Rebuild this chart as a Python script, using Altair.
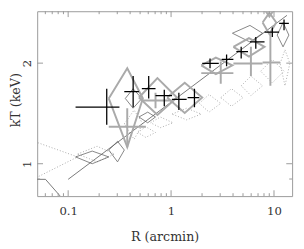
import altair as alt
import pandas as pd

# ---- black crosses (R in arcmin, kT in keV) ----
blk_r     = [0.237, 0.428, 0.606, 0.859, 1.190, 1.687, 2.390, 3.462, 4.800, 6.655, 9.636, 12.52]
blk_r_lo  = [0.118, 0.351, 0.520, 0.706, 1.022, 1.448, 2.008, 3.105, 4.305, 5.839, 8.093, 11.22]
blk_r_hi  = [0.315, 0.487, 0.706, 1.022, 1.417, 1.881, 2.908, 4.031, 5.590, 8.093, 11.22, 13.95]
blk_kt    = [1.476, 1.643, 1.677, 1.600, 1.557, 1.578, 1.996, 2.051, 2.164, 2.314, 2.475, 2.630]
blk_kt_lo = [1.308, 1.476, 1.568, 1.486, 1.447, 1.476, 1.931, 1.957, 2.065, 2.208, 2.393, 2.507]
blk_kt_hi = [1.677, 1.829, 1.829, 1.666, 1.632, 1.677, 2.065, 2.121, 2.238, 2.393, 2.559, 2.701]

# ---- grey crosses ----
gry_r     = [0.375, 0.706, 3.038, 5.968, 9.226]
gry_r_lo  = [0.248, 0.509, 1.965, 4.031, 7.749]
gry_r_hi  = [0.568, 1.044, 4.031, 7.749, 11.47]
gry_kt    = [1.291, 1.547, 1.867, 1.996, 2.010]
gry_kt_lo = [1.121, 1.466, 1.734, 1.829, 1.711]
gry_kt_hi = [1.466, 1.632, 2.024, 2.238, 2.475]

# ---- thick grey diamonds ----
gd_r     = [0.3752, 0.737, 1.357, 2.724, 5.713, 9.026, 9.026]
gd_r_lo  = [0.248, 0.4873, 0.9166, 1.965, 4.031, 7.584, 7.749]
gd_r_hi  = [0.5316, 1.140, 2.008, 3.945, 8.093, 10.75, 10.51]
gd_kt    = [1.568, 1.578, 1.578, 1.970, 2.238, 2.987, 2.647]
gd_kt_lo = [1.121, 1.399, 1.418, 1.854, 2.093, 2.756, 2.442]
gd_kt_hi = [1.931, 1.805, 1.746, 2.079, 2.377, 3.281, 2.830]

# ---- thin dark diamonds ----
td_r     = [0.1713, 0.3018, 0.4276, 0.5928, 5.839, 12.25]
td_r_lo  = [0.1182, 0.248, 0.3591, 0.4873, 3.945, 10.75]
td_r_hi  = [0.248, 0.3514, 0.5202, 0.7057, 7.749, 13.95]
td_kt    = [1.048, 1.099, 1.568, 1.380, 2.458, 2.426]
td_kt_lo = [1.000, 1.013, 1.466, 1.326, 2.314, 2.238]
td_kt_hi = [1.091, 1.167, 1.677, 1.427, 2.594, 2.647]

# ---- dotted diamonds ----
dd_r     = [0.0495, 0.191, 0.437, 0.5675, 0.7869, 1.417, 2.339, 3.861, 5.968, 9.636, 12.79]
dd_r_lo  = [0.0269, 0.1235, 0.3514, 0.4768, 0.6328, 1.022, 1.881, 3.038, 4.800, 7.419, 11.47]
dd_r_hi  = [0.1235, 0.2827, 0.5316, 0.7057, 1.044, 1.965, 3.038, 5.013, 7.749, 12.52, 14.26]
dd_kt    = [1.048, 1.069, 1.317, 1.240, 1.326, 1.408, 1.516, 1.578, 1.711, 1.892, 1.996]
dd_kt_lo = [0.910, 1.013, 1.183, 1.199, 1.282, 1.353, 1.427, 1.486, 1.600, 1.746, 1.711]
dd_kt_hi = [1.159, 1.128, 1.447, 1.291, 1.380, 1.466, 1.611, 1.677, 1.829, 2.051, 2.193]

# ---- power-law fit line and corner curve ----
fit_r = [0.1, 13.36]
fit_kt = [0.898, 2.78]
corner_r = [0.0495, 0.0602, 0.0834]
corner_kt = [0.898, 0.898, 0.801]

# ---- tick values ----
x_major_ticks = [0.1, 1, 10]
x_minor_ticks = [0.06, 0.07, 0.08, 0.09, 0.2, 0.3, 0.4, 0.5, 0.6, 0.7, 0.8, 0.9,
                 2, 3, 4, 5, 6, 7, 8, 9]
y_major_ticks = [1, 2]
y_minor_ticks = [0.9]

W, H = 262, 190
FRAME = "#999999"
TXT = "#333333"


def diamonds(r, r_lo, r_hi, kt, kt_lo, kt_hi, prefix):
    rows = []
    for i in range(len(r)):
        verts = [(r_lo[i], kt[i]), (r[i], kt_hi[i]), (r_hi[i], kt[i]),
                 (r[i], kt_lo[i]), (r_lo[i], kt[i])]
        for k, (a, b) in enumerate(verts):
            rows.append({"id": f"{prefix}{i}", "k": k, "r": a, "kt": b})
    return pd.DataFrame(rows)


def crosses(r, r_lo, r_hi, kt, kt_lo, kt_hi):
    return pd.DataFrame({"r": r, "r_lo": r_lo, "r_hi": r_hi,
                         "kt": kt, "kt_lo": kt_lo, "kt_hi": kt_hi})


xs = alt.Scale(type="log", domain=[0.05, 15], nice=False)
ys = alt.Scale(type="log", domain=[0.8, 2.86], nice=False)

x_axis = alt.Axis(title="R (arcmin)", values=x_major_ticks, format="~g",
                  ticks=False, domain=False, grid=False,
                  labelFont="DejaVu Serif", labelFontSize=12, labelColor=TXT,
                  labelBaseline="alphabetic", labelPadding=19, labelFlush=False,
                  labelOverlap=False,
                  titleFont="DejaVu Serif", titleFontSize=13, titleFontWeight="normal",
                  titleColor=TXT, titleBaseline="alphabetic", titleY=46, titleX=131,
                  titleAlign="center")
y_axis = alt.Axis(title="kT (keV)", values=y_major_ticks, format="~g",
                  ticks=False, domain=False, grid=False,
                  labelFont="DejaVu Serif", labelFontSize=12, labelColor=TXT,
                  labelAngle=270, labelAlign="center", labelBaseline="alphabetic",
                  labelPadding=7, labelFlush=False, labelOverlap=False,
                  titleFont="DejaVu Serif", titleFontSize=13, titleFontWeight="normal",
                  titleColor=TXT, titleAngle=270, titleBaseline="alphabetic",
                  titleX=-18, titleY=91, titleAlign="center")


def X(f="r"):
    return alt.X(f"{f}:Q", scale=xs, axis=x_axis)


def Y(f="kt"):
    return alt.Y(f"{f}:Q", scale=ys, axis=y_axis)


dot_df = diamonds(dd_r, dd_r_lo, dd_r_hi, dd_kt, dd_kt_lo, dd_kt_hi, "d")
thin_df = diamonds(td_r, td_r_lo, td_r_hi, td_kt, td_kt_lo, td_kt_hi, "t")
gd_df = diamonds(gd_r, gd_r_lo, gd_r_hi, gd_kt, gd_kt_lo, gd_kt_hi, "g")
blk_df = crosses(blk_r, blk_r_lo, blk_r_hi, blk_kt, blk_kt_lo, blk_kt_hi)
gry_df = crosses(gry_r, gry_r_lo, gry_r_hi, gry_kt, gry_kt_lo, gry_kt_hi)
fit_df = pd.DataFrame({"r": fit_r, "kt": fit_kt})
corner_df = pd.DataFrame({"r": corner_r, "kt": corner_kt, "k": [0, 1, 2]})

dotted = alt.Chart(dot_df).mark_line(clip=True, color="#a0a0a0", strokeWidth=0.9,
                                     strokeDash=[1, 2]).encode(
    x=X(), y=Y(), detail="id:N", order="k:Q")
thin = alt.Chart(thin_df).mark_line(clip=True, color="#666666", strokeWidth=0.8).encode(
    x=X(), y=Y(), detail="id:N", order="k:Q")
fit = alt.Chart(fit_df).mark_line(clip=True, color="#555555", strokeWidth=0.8).encode(
    x=X(), y=Y())
corner = alt.Chart(corner_df).mark_line(clip=True, color="#555555", strokeWidth=0.8).encode(
    x=X(), y=Y(), order="k:Q")
gdia = alt.Chart(gd_df).mark_line(clip=True, color="#aaaaaa", strokeWidth=2).encode(
    x=X(), y=Y(), detail="id:N", order="k:Q")

gry_h = alt.Chart(gry_df).mark_rule(clip=True, color="#aaaaaa", strokeWidth=2).encode(
    x=X("r_lo"), x2="r_hi", y=Y())
gry_v = alt.Chart(gry_df).mark_rule(clip=True, color="#aaaaaa", strokeWidth=2).encode(
    x=X(), y=Y("kt_lo"), y2="kt_hi")
blk_h = alt.Chart(blk_df).mark_rule(clip=True, color="#000000", strokeWidth=1.3).encode(
    x=X("r_lo"), x2="r_hi", y=Y())
blk_v = alt.Chart(blk_df).mark_rule(clip=True, color="#000000", strokeWidth=1.3).encode(
    x=X(), y=Y("kt_lo"), y2="kt_hi")

xmaj = pd.DataFrame({"r": x_major_ticks})
xmin = pd.DataFrame({"r": x_minor_ticks})
ymaj = pd.DataFrame({"kt": y_major_ticks})
ymin = pd.DataFrame({"kt": y_minor_ticks})


def xticks(df, ln):
    b = alt.Chart(df).mark_rule(color=FRAME, strokeWidth=1).encode(
        x=X(), y=alt.value(H), y2=alt.value(H - ln))
    t = alt.Chart(df).mark_rule(color=FRAME, strokeWidth=1).encode(
        x=X(), y=alt.value(0), y2=alt.value(ln))
    return [b, t]


def yticks(df, ln):
    l = alt.Chart(df).mark_rule(color=FRAME, strokeWidth=1).encode(
        y=Y(), x=alt.value(0), x2=alt.value(ln))
    r = alt.Chart(df).mark_rule(color=FRAME, strokeWidth=1).encode(
        y=Y(), x=alt.value(W), x2=alt.value(W - ln))
    return [l, r]


layers = [dotted, thin, fit, corner, gdia, gry_h, gry_v, blk_h, blk_v]
layers += xticks(xmaj, 6) + xticks(xmin, 3) + yticks(ymaj, 6) + yticks(ymin, 3)

chart = alt.layer(*layers).properties(
    width=W, height=H,
    padding={"left": 30, "top": 0, "right": 4, "bottom": 50},
    autosize=alt.AutoSizeParams(type="none"),
    background="white",
).configure_view(stroke=FRAME, strokeWidth=1)

chart.save("out.html", embed_options={"renderer": "svg", "actions": False})
